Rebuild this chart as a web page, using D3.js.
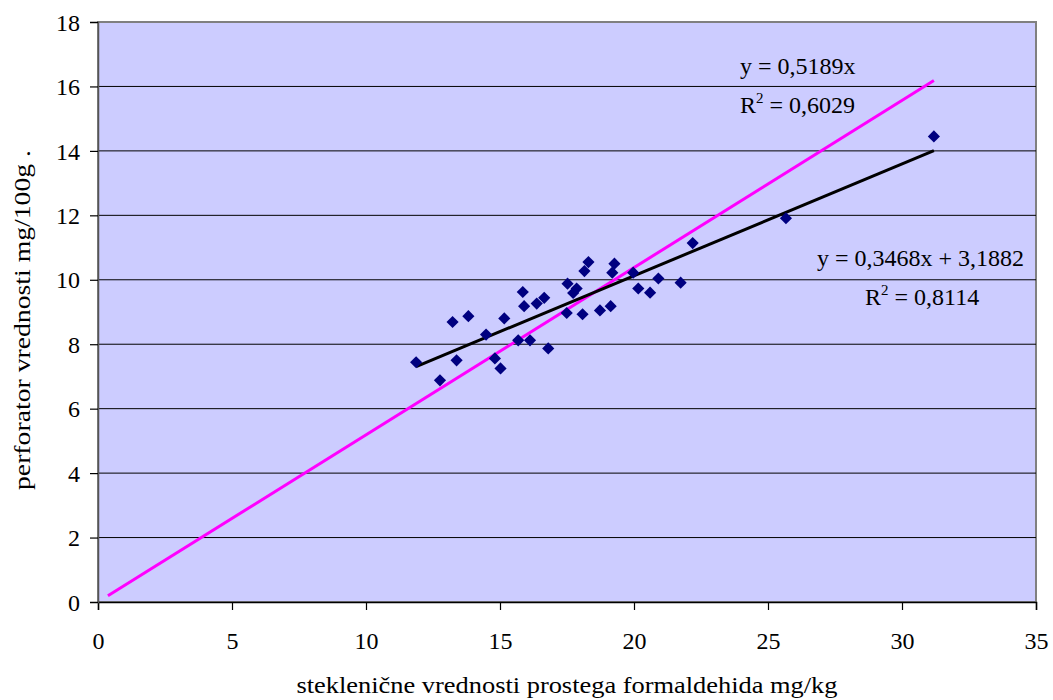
<!DOCTYPE html>
<html>
<head>
<meta charset="utf-8">
<script src="https://cdn.jsdelivr.net/npm/d3@7"></script>
<style>
  body { margin: 0; background: #fff; }
</style>
</head>
<body>
<svg id="chart" width="1053" height="700"></svg>
<script>
// measured points: steklenicne (x) vs perforator (y)
var xVals = [11.87, 12.76, 13.23, 13.82, 13.38, 14.48, 15.16, 14.81, 15.02, 15.68,
             16.12, 16.80, 15.85, 15.90, 16.37, 16.65, 17.52, 17.86, 17.73, 17.49,
             18.08, 18.30, 18.15, 18.73, 19.13, 19.27, 19.19, 19.97, 20.16, 20.60,
             20.91, 21.74, 22.19, 25.67, 31.19];
var yVals = [7.44, 6.88, 8.69, 8.87, 7.50, 8.30, 8.80, 7.56, 7.25, 8.12,
             8.12, 7.87, 9.62, 9.18, 9.26, 9.44, 9.88, 9.73, 9.59, 8.97,
             8.93, 10.55, 10.27, 9.05, 9.18, 10.50, 10.22, 10.22, 9.73, 9.60,
             10.04, 9.91, 11.14, 11.91, 14.45];

var xTicks = [0, 5, 10, 15, 20, 25, 30, 35];
var yTicks = [0, 2, 4, 6, 8, 10, 12, 14, 16, 18];

// trendlines
var linFit = { slope: 0.3468, icpt: 3.1882, from: 11.87, to: 31.19 };
var originFit = { slope: 0.5189, icpt: 0, from: 0.37, to: 31.19 };

var FONT = "'Liberation Serif', 'Times New Roman', serif";
var svg = d3.select("#chart");
var margin = { left: 98, right: 17, top: 22, bottom: 98 };
var W = 1053, H = 700;

var x = d3.scaleLinear().domain([0, 35]).range([margin.left, W - margin.right]);
var y = d3.scaleLinear().domain([0, 18]).range([H - margin.bottom, margin.top]);

// plot area
svg.append("rect")
    .attr("x", x(0)).attr("y", y(18))
    .attr("width", x(35) - x(0)).attr("height", y(0) - y(18))
    .attr("fill", "#ccccff")
    .attr("stroke", "#808080").attr("stroke-width", 2);

// gridlines (top one is the plot border)
svg.append("g").selectAll("line")
    .data(yTicks.filter(function(d) { return d > 0 && d < 18; }))
    .enter().append("line")
    .attr("x1", x(0)).attr("x2", x(35))
    .attr("y1", function(d) { return y(d); }).attr("y2", function(d) { return y(d); })
    .attr("stroke", "#000").attr("stroke-width", 1);

// axes
var xAxis = svg.append("g")
    .attr("transform", "translate(0," + y(0) + ")")
    .call(d3.axisBottom(x).tickValues(xTicks).tickSize(8).tickPadding(22));
var yAxis = svg.append("g")
    .attr("transform", "translate(" + x(0) + ",0)")
    .call(d3.axisLeft(y).tickValues(yTicks).tickSize(8).tickPadding(10));

[xAxis, yAxis].forEach(function(a) {
    a.select(".domain").attr("stroke", "#000").attr("stroke-width", 1.5);
    a.selectAll(".tick line").attr("stroke", "#000").attr("stroke-width", 1.2);
    a.selectAll(".tick text")
        .style("font-family", FONT)
        .style("font-size", "24px").attr("fill", "#000");
});
yAxis.select(".domain").attr("stroke", "#555");
xAxis.selectAll(".tick text").attr("dy", "0.71em");
yAxis.selectAll(".tick text").attr("dy", "0.34em");

// trendlines
var line = d3.line()
    .x(function(d) { return x(d[0]); })
    .y(function(d) { return y(d[1]); });

function fitPts(f) {
    return [[f.from, f.slope * f.from + f.icpt], [f.to, f.slope * f.to + f.icpt]];
}

svg.append("path")
    .attr("d", line(fitPts(originFit)))
    .attr("stroke", "#ff00ff").attr("stroke-width", 3).attr("fill", "none");
svg.append("path")
    .attr("d", line(fitPts(linFit)))
    .attr("stroke", "#000").attr("stroke-width", 3).attr("fill", "none");

// markers
var diamond = d3.symbol().type(d3.symbolSquare).size(74);
svg.append("g").selectAll("path")
    .data(xVals.map(function(v, i) { return [v, yVals[i]]; }))
    .enter().append("path")
    .attr("d", diamond)
    .attr("transform", function(d) { return "translate(" + x(d[0]) + "," + y(d[1]) + ") rotate(45)"; })
    .attr("fill", "#000080");

// equation labels
function eq(xp, yp, txt, sup, rest) {
    var t = svg.append("text").attr("x", xp).attr("y", yp)
        .style("font-family", FONT).style("font-size", "24px").attr("fill", "#000");
    t.append("tspan").text(txt);
    if (sup) {
        t.append("tspan").attr("dy", -10).style("font-size", "15px").text(sup);
        t.append("tspan").attr("dy", 10).text(rest);
    }
}
eq(740, 74, "y = 0,5189x");
eq(740, 113, "R", "2", " = 0,6029");
eq(817, 266, "y = 0,3468x + 3,1882");
eq(865, 305, "R", "2", " = 0,8114");

// axis titles
svg.append("text")
    .attr("x", 567).attr("y", 693)
    .attr("text-anchor", "middle")
    .style("font-family", FONT).style("font-size", "24px").attr("fill", "#000")
    .attr("textLength", 541).attr("lengthAdjust", "spacingAndGlyphs")
    .text("stekleni\u010dne vrednosti prostega formaldehida mg/kg");

svg.append("text")
    .attr("transform", "translate(30,320) rotate(-90)")
    .attr("text-anchor", "middle")
    .style("font-family", FONT).style("font-size", "24px").attr("fill", "#000")
    .attr("textLength", 340).attr("lengthAdjust", "spacingAndGlyphs")
    .text("perforator vrednosti mg/100g  .");
</script>
</body>
</html>
